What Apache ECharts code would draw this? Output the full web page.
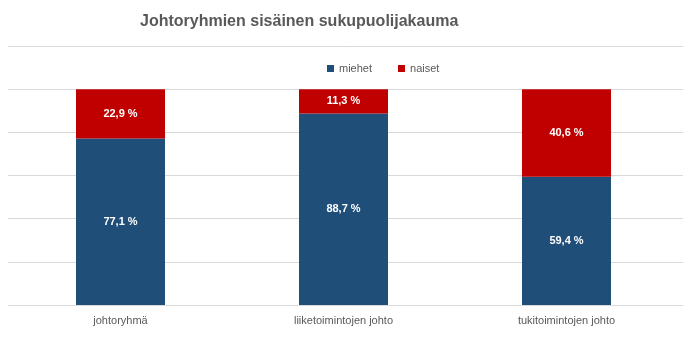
<!DOCTYPE html>
<html><head><meta charset="utf-8">
<script src="https://cdn.jsdelivr.net/npm/echarts@6/dist/echarts.min.js"></script>
<style>html,body{margin:0;padding:0;background:#fff}#c{width:690px;height:356px}</style>
</head><body><div id="c"></div>
<script>
var categories = ['johtoryhmä', 'liiketoimintojen johto', 'tukitoimintojen johto'];
var miehet = [77.1, 88.7, 59.4];
var naiset = [22.9, 11.3, 40.6];
var seriesNames = ['miehet', 'naiset'];

var chart = echarts.init(document.getElementById('c'));
function fmt(p){ return p.value.toFixed(1).replace('.', ',') + ' %'; }
var lbl = {show:true, position:'inside', color:'#fff', fontWeight:'bold', fontSize:11, fontFamily:'Liberation Sans', formatter:fmt};
chart.setOption({
  animation:false,
  title:{text:'Johtoryhmien sisäinen sukupuolijakauma', left:135, top:9,
    textStyle:{fontFamily:'Liberation Sans', fontWeight:'bold', fontSize:16, color:'#595959'}},
  legend:{data:seriesNames, top:58, left:322, itemWidth:7, itemHeight:7, itemGap:26, icon:'rect',
    textStyle:{color:'#595959', fontSize:11, fontFamily:'Liberation Sans'}},
  grid:[{left:8, right:7, top:46, bottom:51}, {left:9, right:12, top:46, bottom:51}],
  xAxis:[
    {type:'value', gridIndex:0, show:false},
    {type:'category', gridIndex:1, data:categories, axisTick:{show:false},
    axisLine:{show:false},
    axisLabel:{color:'#595959', fontSize:11, fontFamily:'Liberation Sans', margin:10}}],
  yAxis:[
    {type:'value', gridIndex:0, min:0, max:120, interval:20, axisLabel:{show:false},
    axisLine:{show:false}, axisTick:{show:false},
    splitLine:{lineStyle:{color:'#d9d9d9'}}},
    {type:'value', gridIndex:1, min:0, max:120, interval:20, show:false, splitLine:{show:false}}],
  series:[
    {name:seriesNames[0], type:'bar', stack:'a', xAxisIndex:1, yAxisIndex:1, data:miehet, barWidth:89, itemStyle:{color:'#1f4e79'}, label:lbl},
    {name:seriesNames[1], type:'bar', stack:'a', xAxisIndex:1, yAxisIndex:1, data:naiset, barWidth:89, itemStyle:{color:'#c00000'}, label:lbl}
  ]
});
</script></body></html>
